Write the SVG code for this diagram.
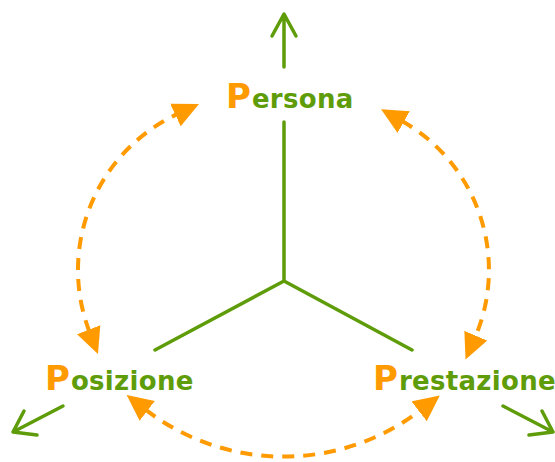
<svg xmlns="http://www.w3.org/2000/svg" width="555" height="462" viewBox="0 0 555 462">
<style>
.g{fill:none;stroke:#5f9c0a;stroke-width:3.5;stroke-linecap:round;stroke-linejoin:round}
.d{fill:none;stroke:#ff9a00;stroke-width:4;stroke-dasharray:12 9}
.t{font-family:"DejaVu Sans",sans-serif;font-weight:bold;fill:#5f9c0a}
.big{font-size:34px;fill:#ff9a00;letter-spacing:1px}
.small{font-size:26px;letter-spacing:0.3px}
</style>
<defs>
<marker id="ah" markerUnits="userSpaceOnUse" markerWidth="26" markerHeight="26" refX="2" refY="12" orient="auto-start-reverse" viewBox="0 0 25 24">
<path d="M0,0 L25,12 L0,24 z" fill="#ff9a00"/>
</marker>
</defs>
<g id="connectors">
<path class="g" d="M284,122 L284,281 L155,350 M284,281 L412,350"/>
<path class="g" d="M284,67 L284,15 M272,36 L284,14 L296,36"/>
<path class="g" d="M63,406 L13,432 M24,411 L13,432 L37,435"/>
<path class="g" d="M503,406 L553,432 M542,411 L553,432 L529,435"/>
<path class="d" d="M89.4,331.6 A172,172 0 0 1 177.3,114.1" marker-start="url(#ah)" marker-end="url(#ah)"/>
<path class="d" d="M401.9,121 A171,171 0 0 1 475,337.6" marker-start="url(#ah)" marker-end="url(#ah)"/>
<path class="d" d="M145.6,409.7 A226,226 0 0 0 420.8,410.1" marker-start="url(#ah)" marker-end="url(#ah)"/>
</g>
<g id="persona"><text class="t" x="226" y="108"><tspan class="big">P</tspan><tspan class="small">ersona</tspan></text></g>
<g id="posizione"><text class="t" x="45" y="390"><tspan class="big">P</tspan><tspan class="small">osizione</tspan></text></g>
<g id="prestazione"><text class="t" x="373" y="390"><tspan class="big">P</tspan><tspan class="small">restazione</tspan></text></g>
</svg>
